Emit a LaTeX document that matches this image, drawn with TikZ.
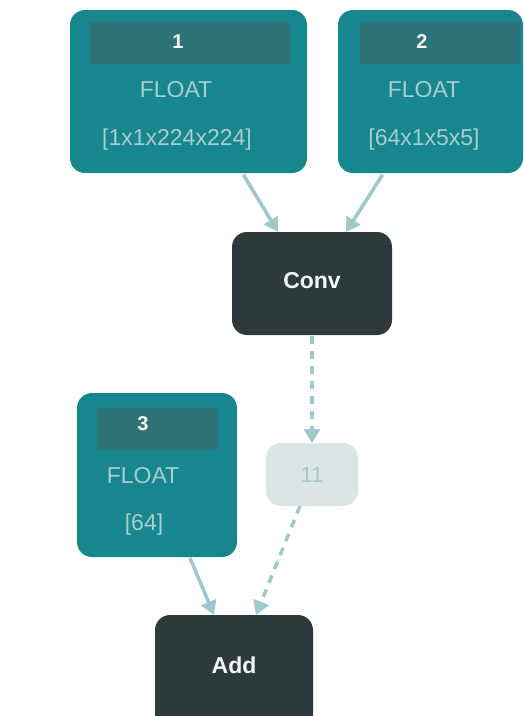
\documentclass[tikz,border=0pt]{standalone}
\usepackage{fontspec}
\setmainfont{Liberation Sans}
\usetikzlibrary{arrows.meta}
\definecolor{tealbox}{HTML}{17868F}
\definecolor{tealhead}{HTML}{2F7378}
\definecolor{tealtext}{HTML}{A8CDD1}
\definecolor{darkop}{HTML}{2E393B}
\definecolor{lightnode}{HTML}{DCE4E6}
\definecolor{lighttext}{HTML}{A9C6CB}
\definecolor{arrowc}{HTML}{9CC8CE}
\tikzset{
  x=1pt, y=-1pt,
  tbox/.style={fill=tealbox, rounded corners=15pt},
  thead/.style={fill=tealhead},
  ttxt/.style={text=tealtext, font=\fontsize{23}{26}\selectfont},
  tnum/.style={text=white!90!tealtext, font=\fontsize{20}{24}\selectfont\bfseries},
  opbox/.style={fill=darkop, rounded corners=15pt},
  optxt/.style={text=white!85!tealtext, font=\fontsize{23}{26}\selectfont\bfseries},
  edge/.style={draw=arrowc, line width=3.5pt, -{Triangle[length=14pt,width=16pt]}},
  dedge/.style={edge, dash pattern=on 8pt off 7pt},
}
\begin{document}
\begin{tikzpicture}
\useasboundingbox (0,0) rectangle (524,716);
% box 1
\path[tbox] (70,10) rectangle (307,173);
\node[thead, minimum width=200pt, minimum height=42pt, inner sep=0pt] (h1) at (190,43) {};
\node[tnum] (n1) at (178,42) {1};
\node[ttxt] (f1) at (176,90) {FLOAT};
\node[ttxt] (s1) at (177,140) {[1x1x224x224]};
\node[inner sep=0pt] (b1) at (243,174) {};
% box 2
\path[tbox] (338,10) rectangle (523,173);
\node[thead, minimum width=160pt, minimum height=42pt, inner sep=0pt] (h2) at (440,43) {};
\node[tnum] (n2) at (422,42) {2};
\node[ttxt] (f2) at (424,90) {FLOAT};
\node[ttxt] (s2) at (424,140) {[64x1x5x5]};
\node[inner sep=0pt] (b2) at (383,174) {};
% conv
\path[opbox] (232,232) rectangle (392,335);
\node[optxt] (conv) at (312,281) {Conv};
\coordinate (convtl) at (278,232);
\coordinate (convtr) at (346,232);
\coordinate (convb) at (312,336);
% box 3
\path[tbox] (77,393) rectangle (237,557);
\node[thead, minimum width=121pt, minimum height=42pt, inner sep=0pt] (h3) at (157.5,429) {};
\node[tnum] (n3) at (143,424) {3};
\node[ttxt] (f3) at (143,476) {FLOAT};
\node[ttxt] (s3) at (144,525) {[64]};
\coordinate (b3) at (190,558);
% node 11
\path[fill=lightnode, rounded corners=15pt] (266,443) rectangle (358,506);
\node[text=lighttext, font=\fontsize{22}{26}\selectfont] (n11) at (312,475) {11};
\coordinate (n11t) at (312,443);
\coordinate (n11b) at (300,506);
% add
\path[opbox] (155,615) rectangle (313,730);
\node[optxt] (add) at (234,665) {Add};
\coordinate (addl) at (214,615);
\coordinate (addr) at (256,615);
% edges
\draw[edge] (b1) -- (convtl);
\draw[edge] (b2) -- (convtr);
\draw[dedge] (convb) -- (n11t);
\draw[dedge] (n11b) -- (addr);
\draw[edge] (b3) -- (addl);
\end{tikzpicture}
\end{document}
